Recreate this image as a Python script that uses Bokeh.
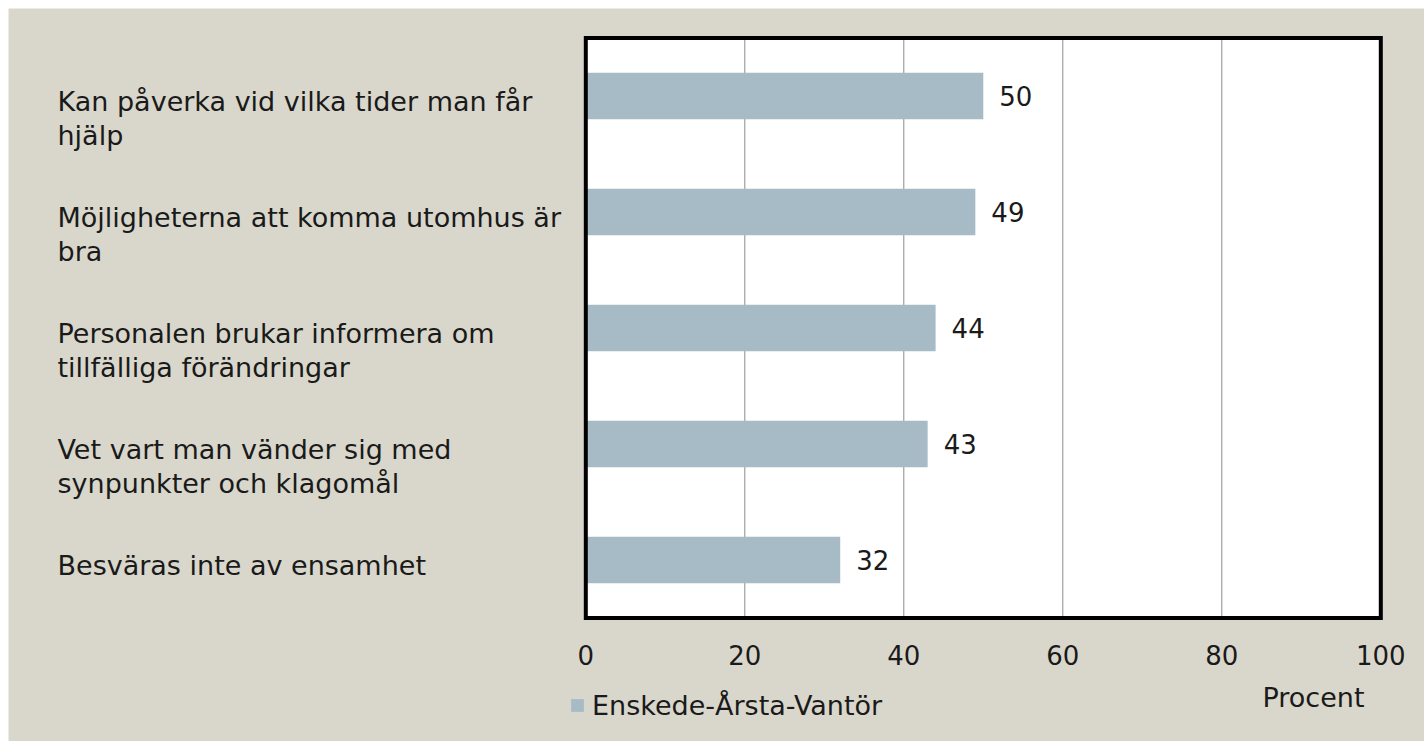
from bokeh.plotting import figure
from bokeh.models import (Range1d, FixedTicker, Label, ColumnDataSource,
                          Legend, LegendItem, LinearAxis)
from bokeh.core.properties import value
from bokeh.embed import file_html
from bokeh.resources import INLINE

# ---- data ----
categories = [
    "Kan påverka vid vilka tider man får hjälp",
    "Möjligheterna att komma utomhus är bra",
    "Personalen brukar informera om tillfälliga förändringar",
    "Vet vart man vänder sig med synpunkter och klagomål",
    "Besväras inte av ensamhet",
]
category_lines = [
    ["Kan påverka vid vilka tider man får", "hjälp"],
    ["Möjligheterna att komma utomhus är", "bra"],
    ["Personalen brukar informera om", "tillfälliga förändringar"],
    ["Vet vart man vänder sig med", "synpunkter och klagomål"],
    ["Besväras inte av ensamhet"],
]
values = [50, 49, 44, 43, 32]
series_name = "Enskede-Årsta-Vantör"
x_ticks = [0, 20, 40, 60, 80, 100]
axis_title = "Procent"

# ---- style ----
FONT = "DejaVu Sans"
FS = "26px"
LFS = "27px"
BG = "#D9D7CB"
BAR = "#A7BBC6"
TXT = "#1a1a1a"
W, H = 1416, 733
X0_PX, PX_X = 577.3, 7.95      # canvas px of x=0, px per unit
Y0_PX, PX_Y = 609.5, 116.0     # canvas px of y=0 (bottom of plot box), px per band

n = len(categories)
ypos = [n - 0.5 - i for i in range(n)]

p = figure(width=W, height=H, output_backend="svg", toolbar_location=None,
           x_range=Range1d(-X0_PX / PX_X, (W - X0_PX) / PX_X),
           y_range=Range1d(-(H - Y0_PX) / PX_Y, Y0_PX / PX_Y),
           x_axis_location=None, y_axis_location=None, min_border=0)
p.margin = (8, 0, 0, 8)
p.background_fill_color = BG
p.border_fill_color = BG
p.outline_line_color = None
p.grid.visible = False

# plot box
p.quad(left=[x_ticks[0]], right=[x_ticks[-1]], bottom=[0], top=[n],
       fill_color="white", line_color=None)
# vertical grid lines
gx = x_ticks[1:-1]
p.segment(x0=gx, x1=gx, y0=[0] * len(gx), y1=[n] * len(gx),
          line_color="#8C8C8C", line_width=1)

src = ColumnDataSource(dict(y=ypos, v=values, lab=[str(v) for v in values]))
bars = p.hbar(y="y", left=0, right="v", height=0.4, source=src,
              fill_color=BAR, line_color=None)
p.text(x="v", y="y", text="lab", source=src, x_offset=16,
       text_baseline="middle", text_align="left",
       text_font=value(FONT), text_font_size=FS, text_color=TXT)

# border of plot box
p.quad(left=[x_ticks[0]], right=[x_ticks[-1]], bottom=[0], top=[n],
       fill_color=None, line_color="black", line_width=4, line_join="miter")

# x axis at the bottom of the plot box
ax = LinearAxis(fixed_location=0, ticker=FixedTicker(ticks=x_ticks))
ax.axis_line_color = None
ax.major_tick_line_color = None
ax.minor_tick_line_color = None
ax.major_label_standoff = 21
ax.major_label_text_font = FONT
ax.major_label_text_font_size = FS
ax.major_label_text_color = TXT
p.add_layout(ax, "below")

# category labels (left side)
lx, ly, lt = [], [], []
x_lab = (49 - X0_PX) / PX_X
for i, lines in enumerate(category_lines):
    for j, line in enumerate(lines):
        lx.append(x_lab)
        ly.append(ypos[i] - (5 + 34 * j) / PX_Y)
        lt.append(line)
p.text(x=lx, y=ly, text=lt, text_align="left", text_baseline="middle",
       text_font=value(FONT), text_font_size=LFS, text_color=TXT)

# axis title
p.add_layout(Label(x=(1313 - 8 - X0_PX) / PX_X, y=(Y0_PX - 689) / PX_Y, text=axis_title,
                   text_align="center", text_baseline="middle",
                   text_font=FONT, text_font_size=LFS, text_color=TXT))

legend = Legend(items=[LegendItem(label=series_name, renderers=[bars])],
                location=(561, 20), orientation="horizontal",
                background_fill_alpha=0, border_line_color=None,
                padding=0, margin=0, glyph_width=16, glyph_height=16,
                label_height=32, label_standoff=7, label_text_font=FONT,
                label_text_font_size=LFS, label_text_color=TXT)
p.add_layout(legend, "center")

open("out.html", "w").write(file_html(p, INLINE))
